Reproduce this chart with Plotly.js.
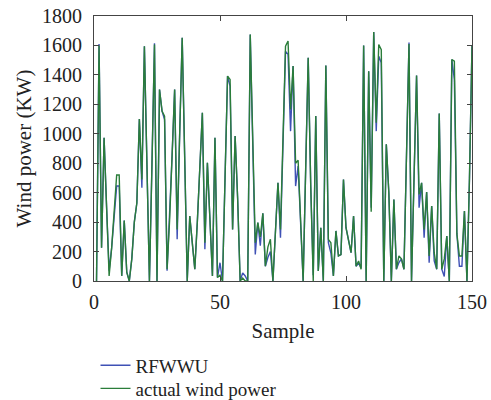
<!DOCTYPE html>
<html>
<head>
<meta charset="utf-8">
<script src="https://cdn.plot.ly/plotly-3.0.1.min.js"></script>
<style>html,body{margin:0;padding:0;background:#fff;}#chart{width:491px;height:400px;}</style>
</head>
<body>
<div id="chart"></div>
<script>
// Sample index 1..150
var samples = [];
for (var i = 1; i <= 150; i++) samples.push(i);

// actual wind power (KW)
var actualPower = [
  0, 1600, 226, 973, 500, 35, 224, 450, 720, 720,
  35, 410, 60, 0, 150, 400, 530, 1100, 690, 1595,
  800, 0, 790, 1606, 0, 1300, 1154, 1120, 80, 412,
  855, 1300, 350, 1000, 1652, 830, 0, 441, 260, 80,
  400, 760, 1143, 260, 803, 420, 34, 973, 23, 40,
  0, 700, 1392, 1369, 350, 985, 560, 0, 20, 0,
  0, 1674, 900, 260, 396, 300, 460, 100, 230, 283,
  0, 330, 667, 350, 900, 1595, 1630, 1165, 1460, 800,
  820, 400, 0, 760, 1516, 650, 0, 1120, 68, 362,
  0, 1464, 283, 260, 34, 340, 170, 180, 690, 362,
  283, 192, 441, 100, 136, 80, 1600, 0, 1425, 470,
  1692, 1075, 1606, 1572, 0, 928, 600, 0, 554, 80,
  170, 150, 80, 850, 1610, 0, 700, 1396, 588, 667,
  350, 604, 170, 509, 192, 80, 1138, 80, 150, 305,
  0, 1504, 1493, 320, 170, 170, 475, 0, 700, 1600
];

// RFWWU forecast (KW)
var rfwwu = [
  0, 1610, 226, 973, 500, 70, 224, 450, 645, 645,
  35, 410, 60, 0, 150, 400, 530, 1100, 633, 1595,
  800, 0, 790, 1615, 0, 1300, 1154, 1097, 70, 412,
  855, 1300, 283, 1000, 1652, 830, 0, 441, 260, 80,
  400, 760, 1143, 215, 803, 420, 34, 973, 23, 124,
  0, 700, 1392, 1324, 350, 985, 560, 0, 55, 34,
  0, 1674, 900, 180, 396, 240, 460, 100, 160, 200,
  0, 330, 667, 294, 900, 1560, 1540, 1018, 1460, 645,
  780, 400, 0, 760, 1516, 650, 40, 1120, 68, 362,
  0, 1464, 260, 190, 34, 340, 170, 180, 690, 362,
  283, 192, 441, 100, 120, 90, 1600, 0, 1425, 498,
  1692, 1018, 1527, 1482, 0, 928, 600, 0, 554, 80,
  125, 150, 80, 850, 1620, 0, 700, 1396, 498, 667,
  294, 604, 125, 509, 136, 80, 1138, 80, 30, 305,
  0, 1504, 1369, 320, 100, 100, 475, 0, 700, 1600
];

var seriesNames = ["RFWWU", "actual wind power"];
var xTicks = [0, 50, 100, 150];
var yTicks = [0, 200, 400, 600, 800, 1000, 1200, 1400, 1600, 1800];

var fontFam = "Liberation Serif, Times New Roman, serif";

var traces = [
  {x: samples, y: rfwwu, type: "scatter", mode: "lines", name: seriesNames[0],
   legend: "legend", line: {color: "#3f51b5", width: 1.4}},
  {x: samples, y: actualPower, type: "scatter", mode: "lines", name: seriesNames[1],
   legend: "legend2", line: {color: "#2a7d3a", width: 1.4}}
];

var legendFont = {family: fontFam, size: 19, color: "#222"};

var layout = {
  width: 491, height: 400,
  margin: {l: 94, r: 19, t: 16, b: 119, autoexpand: false},
  paper_bgcolor: "#ffffff", plot_bgcolor: "#ffffff",
  font: {family: fontFam, size: 19, color: "#222"},
  showlegend: true,
  legend: {x: 0.004, xanchor: "left", y: -0.247, yanchor: "top",
           font: legendFont, bgcolor: "rgba(0,0,0,0)"},
  legend2: {x: 0.004, xanchor: "left", y: -0.334, yanchor: "top",
           font: legendFont, bgcolor: "rgba(0,0,0,0)"},
  xaxis: {range: [0, 150], tickvals: xTicks, ticktext: xTicks.map(String),
          ticks: "inside", ticklen: 5, tickcolor: "#444", mirror: "ticks",
          showline: true, linecolor: "#444", linewidth: 1, showgrid: false, zeroline: false,
          automargin: false, ticklabelstandoff: 3,
          tickfont: {family: fontFam, size: 20, color: "#222"},
          title: {text: "Sample", font: {family: fontFam, size: 21, color: "#222"}, standoff: 11}},
  yaxis: {range: [0, 1800], tickvals: yTicks, ticktext: yTicks.map(String),
          ticks: "inside", ticklen: 5, tickcolor: "#444", mirror: "ticks",
          showline: true, linecolor: "#444", linewidth: 1, showgrid: false, zeroline: false,
          automargin: false, ticklabelstandoff: 7,
          tickfont: {family: fontFam, size: 20, color: "#222"},
          title: {text: "Wind power (KW)", font: {family: fontFam, size: 21, color: "#222"}, standoff: 4}}
};

Plotly.newPlot("chart", traces, layout, {displayModeBar: false, staticPlot: true});
</script>
</body>
</html>
